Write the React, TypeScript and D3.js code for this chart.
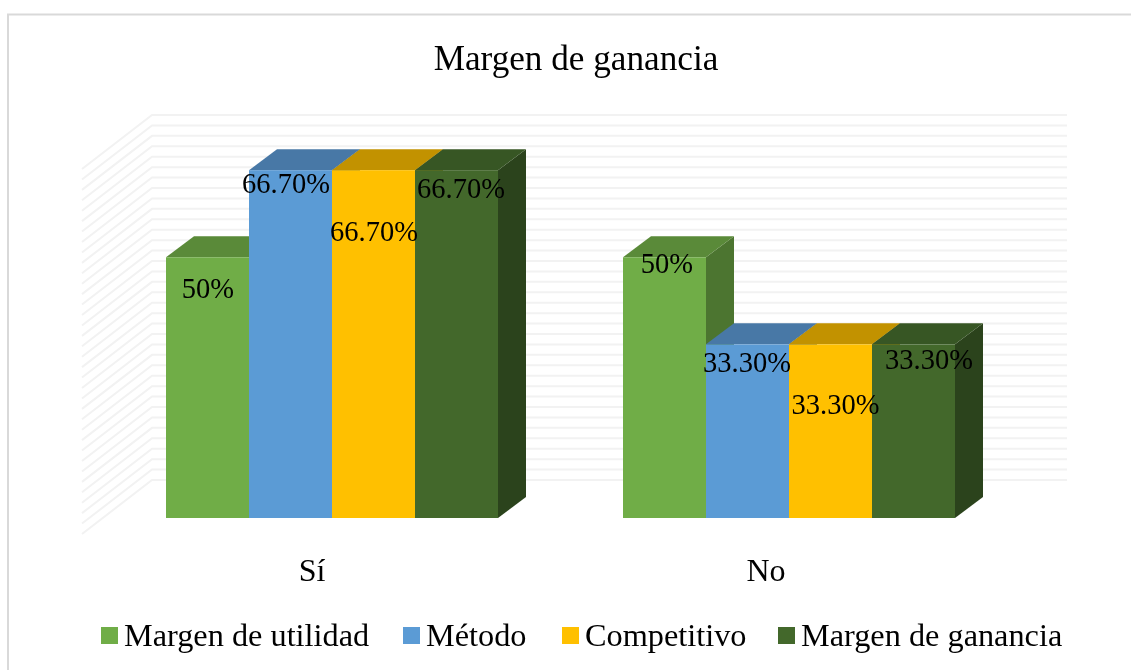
import React from 'react';
import * as d3 from 'd3';

const categories = ['Sí', 'No'];
const seriesNames = ['Margen de utilidad', 'Método', 'Competitivo', 'Margen de ganancia'];
const siValues = [50, 66.7, 66.7, 66.7];
const noValues = [50, 33.3, 33.3, 33.3];
const siLabels = ['50%', '66.70%', '66.70%', '66.70%'];
const noLabels = ['50%', '33.30%', '33.30%', '33.30%'];
const gridTicks = d3.range(0, 71, 2);

// hand placed labels in the original: shift from the top centre of each bar
const siLabelShift = [[0.5, 41], [-4.5, 23], [0.5, 71], [4.5, 28]];
const noLabelShift = [[2.5, 16], [-0.5, 28], [5, 70], [15.5, 25]];

const fronts = ['#70ad47', '#5b9bd5', '#ffc000', '#43682b'];
const tops = ['#5a8a39', '#4878a6', '#c29200', '#375624'];
const sides = ['#4c7530', '#3f6d96', '#b58900', '#2b431c'];

const width = 1131;
const height = 670;
const base = 518;
const bar = { dx: 28, dy: 21 };

const y = d3.scaleLinear().domain([0, 70]).range([base, base - 365]);
const x0 = d3.scaleBand().domain(categories).range([103.5, 1017.5]).paddingInner(0).paddingOuter(0);
const x1 = d3
    .scaleBand()
    .domain(seriesNames)
    .range([0, x0.bandwidth()])
    .paddingOuter(0.753)
    .paddingInner(0);

const poly = d3.line();

export default function App() {
    const groups = [
        { cat: categories[0], values: siValues, labels: siLabels, shift: siLabelShift },
        { cat: categories[1], values: noValues, labels: noLabels, shift: noLabelShift },
    ];
    const font = '"Liberation Serif", "Times New Roman", serif';
    const legendX = [101, 403, 562, 778];

    return (
        <svg
            width={width}
            height={height}
            style={{ position: 'absolute', left: 0, top: 0, filter: 'blur(0.45px)' }}
            fontFamily={font}
            fill="#000"
        >
            <rect width={width} height={height} fill="#fff" />
            <line x1={8} x2={8} y1={14} y2={height} stroke="#d9d9d9" strokeWidth={2} />
            <line x1={7} x2={width} y1={14.5} y2={14.5} stroke="#d9d9d9" strokeWidth={2} />

            <text x={576} y={70} fontSize={35.2} textAnchor="middle">
                Margen de ganancia
            </text>

            {/* back and side walls */}
            <g fill="none" stroke="#f2f2f2" strokeWidth={2}>
                {gridTicks.map((t) => (
                    <path
                        key={t}
                        d={
                            poly([
                                [82, y(t) + 16],
                                [152, y(t) - 38],
                                [1067, y(t) - 38],
                            ]) as string
                        }
                    />
                ))}
            </g>

            {groups.map((g) =>
                g.values.map((v, i) => {
                    const name = seriesNames[i];
                    const left = (x0(g.cat) as number) + (x1(name) as number);
                    const right = left + x1.bandwidth();
                    const top = y(v);
                    return (
                        <g key={g.cat + name}>
                            <path
                                fill={sides[i]}
                                d={
                                    (poly([
                                        [right, top],
                                        [right + bar.dx, top - bar.dy],
                                        [right + bar.dx, base - bar.dy],
                                        [right, base],
                                    ]) as string) + 'Z'
                                }
                            />
                            <path
                                fill={tops[i]}
                                d={
                                    (poly([
                                        [left, top],
                                        [left + bar.dx, top - bar.dy],
                                        [right + bar.dx, top - bar.dy],
                                        [right, top],
                                    ]) as string) + 'Z'
                                }
                            />
                            <rect x={left} y={top} width={x1.bandwidth()} height={base - top} fill={fronts[i]} />
                        </g>
                    );
                })
            )}

            {groups.map((g) =>
                g.values.map((v, i) => {
                    const name = seriesNames[i];
                    const cx = (x0(g.cat) as number) + (x1(name) as number) + x1.bandwidth() / 2;
                    return (
                        <text
                            key={g.cat + name}
                            x={cx + g.shift[i][0]}
                            y={y(v) + g.shift[i][1]}
                            fontSize={28.5}
                            textAnchor="middle"
                        >
                            {g.labels[i]}
                        </text>
                    );
                })
            )}

            {categories.map((c) => (
                <text
                    key={c}
                    x={(x0(c) as number) + x0.bandwidth() / 2 - 20}
                    y={581}
                    fontSize={32}
                    textAnchor="middle"
                    dx={c === 'No' ? -3 : 0}
                >
                    {c}
                </text>
            ))}

            {seriesNames.map((s, i) => (
                <g key={s} transform={`translate(${legendX[i]},627)`}>
                    <rect width={17} height={17} fill={fronts[i]} />
                    <text x={23} y={19} fontSize={32.3}>
                        {s}
                    </text>
                </g>
            ))}
        </svg>
    );
}
